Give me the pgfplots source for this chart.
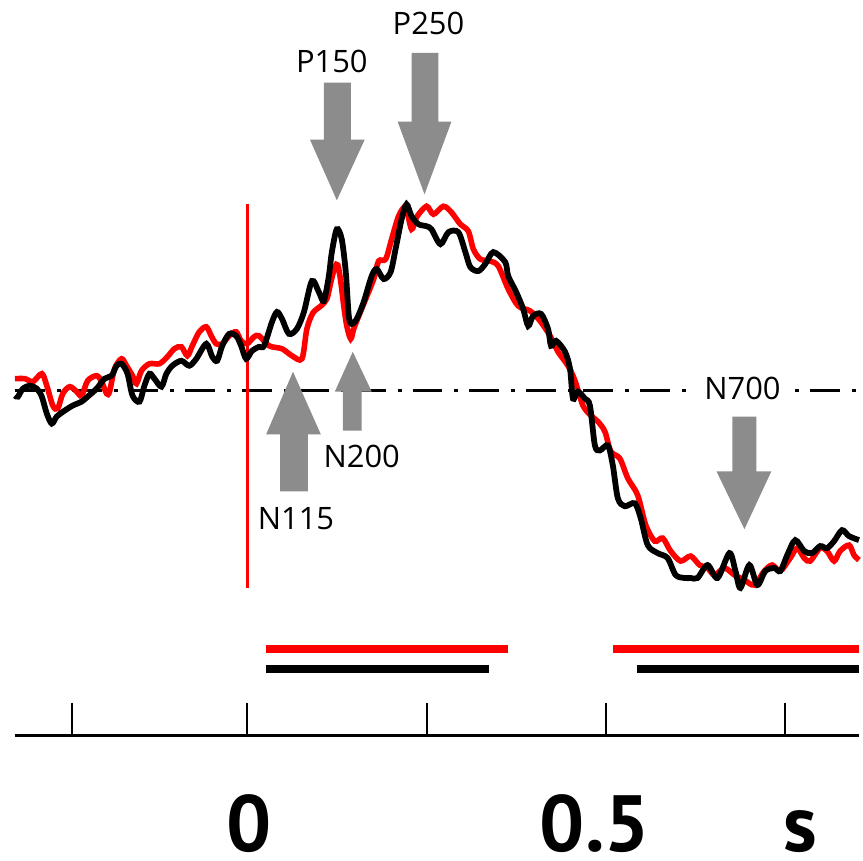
\documentclass[border=0pt]{standalone}
\usepackage{pgfplots}
\pgfplotsset{compat=1.18}
\usepackage{fontspec}
\setmainfont{Open Sans}
\newfontfamily\bigfont{PT Sans}

\definecolor{arrowgray}{RGB}{140,140,140}

\begin{document}
\begin{tikzpicture}
\begin{axis}[
    name=ax,
    width=431pt, height=431.5pt,
    scale only axis,
    xmin=-0.3444, xmax=0.8528,
    ymin=-47.1, ymax=39.2,
    hide axis,
    clip=false,
]
\path (rel axis cs:0,0) rectangle (rel axis cs:1,1);

% baseline
\addplot[black, line width=1.3pt, dash pattern=on 15pt off 6pt on 2pt off 5.5pt]
    coordinates {(-0.3236,0) (0.8528,0)};

% stimulus onset
\addplot[red, line width=1.6pt] coordinates {(0,18.7) (0,-19.8)};

% significance intervals
\addplot[red, line width=4pt] coordinates {(0.026,-25.9) (0.364,-25.9)};
\addplot[black, line width=4pt] coordinates {(0.026,-27.9) (0.3375,-27.9)};
\addplot[red, line width=4pt] coordinates {(0.510,-25.9) (0.8528,-25.9)};
\addplot[black, line width=4pt] coordinates {(0.543,-27.9) (0.8528,-27.9)};

% red condition
\addplot[red, line width=2.8pt, smooth, tension=0.5] coordinates {
(-0.3236,1.2) (-0.3097,1.2) (-0.2986,0.9) (-0.2861,1.7) (-0.2792,0.5)
(-0.2708,-1.5) (-0.2639,-1.8) (-0.2569,-0.3) (-0.2472,0.4) (-0.2375,-0.1)
(-0.2306,-0.5) (-0.2222,1.0) (-0.2097,1.5) (-0.2028,0.9) (-0.1958,-0.3)
(-0.1917,-0.1) (-0.1847,2.2) (-0.1750,3.2) (-0.1681,2.5) (-0.1597,1.5)
(-0.1542,0.7) (-0.1472,2.0) (-0.1361,2.7) (-0.1222,2.7) (-0.1111,3.4)
(-0.1014,4.2) (-0.0917,4.4) (-0.0833,3.5) (-0.0764,4.5) (-0.0667,5.9)
(-0.0569,6.4) (-0.0500,5.5) (-0.0431,4.7) (-0.0347,4.7) (-0.0250,5.5)
(-0.0153,5.9) (-0.0083,5.0) (0,4.7) (0.0097,5.4) (0.0167,5.5)
(0.0306,4.5) (0.0486,4.2) (0.0625,3.5) (0.0764,3.2) (0.0833,6.2)
(0.0917,7.8) (0.1028,8.5) (0.1111,9.2) (0.1167,10.9) (0.1222,12.4)
(0.1264,12.6) (0.1306,10.9) (0.1347,8.5) (0.1389,6.5) (0.1444,5.2)
(0.1486,6.2) (0.1556,7.5) (0.1653,9.2) (0.1764,11.2) (0.1833,13.0)
(0.1931,13.2) (0.2014,15.2) (0.2111,17.5) (0.2208,18.4) (0.2292,16.2)
(0.2361,17.4) (0.2500,18.5) (0.2597,17.7) (0.2736,18.5) (0.2847,17.9)
(0.2972,16.7) (0.3083,16.0) (0.3153,14.2) (0.3250,13.2) (0.3389,13.0)
(0.3500,12.5) (0.3639,10.2) (0.3778,8.5) (0.3944,8.0) (0.4083,7.0)
(0.4222,5.5) (0.4333,3.9) (0.4472,2.5) (0.4569,1.0) (0.4681,-1.5)
(0.4792,-2.5) (0.4889,-3.1) (0.4986,-4.1) (0.5069,-6.1) (0.5194,-6.8)
(0.5306,-8.8) (0.5444,-10.5) (0.5556,-13.5) (0.5681,-15.1) (0.5792,-14.8)
(0.5903,-16.1) (0.6042,-17.1) (0.6181,-16.6) (0.6306,-17.5) (0.6417,-17.8)
(0.6514,-18.5) (0.6653,-17.8) (0.6792,-18.5) (0.6931,-19.0) (0.7069,-19.5)
(0.7208,-18.1) (0.7319,-17.5) (0.7431,-18.1) (0.7569,-16.8) (0.7667,-15.8)
(0.7764,-16.8) (0.7847,-17.1) (0.7986,-15.8) (0.8083,-16.1) (0.8181,-17.1)
(0.8264,-16.1) (0.8389,-15.5) (0.8458,-16.5) (0.8528,-17.0)
};

% black condition
\addplot[black, line width=2.9pt, smooth, tension=0.5] coordinates {
(-0.3236,-0.5) (-0.3194,-0.6) (-0.3125,0.2) (-0.3028,0.5) (-0.2931,0.2)
(-0.2861,-0.6) (-0.2792,-2.3) (-0.2722,-3.3) (-0.2653,-2.6) (-0.2542,-2.0)
(-0.2431,-1.5) (-0.2306,-1.1) (-0.2222,-0.6) (-0.2097,0.2) (-0.1986,1.2)
(-0.1889,1.5) (-0.1819,2.5) (-0.1750,2.7) (-0.1667,1.7) (-0.1597,-0.5)
(-0.1500,-1.1) (-0.1431,0.5) (-0.1361,1.7) (-0.1292,1.2) (-0.1194,0.4)
(-0.1125,1.7) (-0.1042,2.5) (-0.0917,3.0) (-0.0806,2.5) (-0.0708,3.2)
(-0.0569,4.7) (-0.0486,3.4) (-0.0417,3.0) (-0.0347,4.5) (-0.0250,5.7)
(-0.0153,5.5) (-0.0083,4.5) (-0.0014,3.2) (0.0069,4.0) (0.0167,4.4)
(0.0236,4.5) (0.0347,6.9) (0.0417,7.9) (0.0486,7.2) (0.0583,5.7)
(0.0694,6.2) (0.0792,7.9) (0.0903,11.0) (0.1000,9.9) (0.1069,9.0)
(0.1139,11.5) (0.1181,13.9) (0.1250,16.2) (0.1319,15.2) (0.1375,11.9)
(0.1417,7.5) (0.1458,6.7) (0.1528,7.2) (0.1625,8.9) (0.1736,11.5)
(0.1806,12.2) (0.1903,11.2) (0.2000,11.9) (0.2069,14.2) (0.2153,17.2)
(0.2222,18.7) (0.2292,17.5) (0.2389,16.7) (0.2500,16.5) (0.2569,16.2)
(0.2694,14.7) (0.2806,15.9) (0.2944,15.9) (0.3042,13.9) (0.3111,12.4)
(0.3222,12.0) (0.3319,12.7) (0.3431,13.9) (0.3597,12.9) (0.3639,11.5)
(0.3750,9.9) (0.3847,8.2) (0.3917,6.5) (0.3986,7.5) (0.4097,7.7)
(0.4194,6.2) (0.4236,4.5) (0.4306,5.0) (0.4431,3.9) (0.4500,2.2)
(0.4542,-0.8) (0.4611,-0.1) (0.4708,-0.8) (0.4778,-1.5) (0.4847,-5.5)
(0.4917,-6.0) (0.5028,-5.5) (0.5097,-7.5) (0.5167,-10.8) (0.5264,-11.6)
(0.5403,-11.3) (0.5486,-12.8) (0.5583,-15.5) (0.5722,-16.3) (0.5861,-16.8)
(0.5972,-18.5) (0.6097,-18.8) (0.6181,-18.8) (0.6278,-18.8) (0.6417,-17.5)
(0.6556,-18.8) (0.6722,-16.3) (0.6806,-18.1) (0.6875,-19.8) (0.7000,-17.5)
(0.7111,-19.5) (0.7222,-18.1) (0.7347,-17.8) (0.7431,-18.1) (0.7528,-16.5)
(0.7639,-15.0) (0.7764,-16.1) (0.7875,-16.3) (0.7986,-15.6) (0.8083,-15.8)
(0.8181,-15.1) (0.8292,-14.0) (0.8389,-14.6) (0.8528,-15.0)
};
\end{axis}

% annotations in pixel units of the reference (origin top left)
\begin{scope}[shift={(ax.north west)}, x=0.5pt, y=-0.5pt]
  % time axis
  \draw[line width=1.5pt] (15,738) -- (862,738);
  \foreach \t in {72,248,428,608,788}
    \draw[line width=1pt] (\t,705) -- (\t,738);
  \begin{scope}[every node/.style={anchor=base, inner sep=0pt,
      font=\bigfont\fontsize{40}{44}\selectfont\bfseries}]
    \node at (250,854) {0};
    \node at (597,854) {0.5};
    \node at (803,854) {s};
  \end{scope}

  % component arrows
  \fill[arrowgray] (325,83) -- (352,83) -- (352,140) -- (366,140) -- (338,201) -- (311,140) -- (325,140) -- cycle;
  \fill[arrowgray] (413,53) -- (440,53) -- (440,122) -- (453,122) -- (426,195) -- (399,122) -- (413,122) -- cycle;
  \fill[arrowgray] (281,493) -- (309,493) -- (309,436) -- (322,436) -- (294,373) -- (267,436) -- (281,436) -- cycle;
  \fill[arrowgray] (344,432) -- (363,432) -- (363,393) -- (373,393) -- (354,353) -- (336,393) -- (344,393) -- cycle;
  \fill[arrowgray] (735,418) -- (759,418) -- (759,473) -- (774,473) -- (747,531) -- (719,473) -- (735,473) -- cycle;

  \begin{scope}[every node/.style={font=\fontsize{15.5}{18}\selectfont, inner sep=1pt}]
    \node at (333,62) {P150};
    \node at (430,24) {P250};
    \node at (297,520) {N115};
    \node at (363,458) {N200};
    \node[fill=white, inner xsep=4pt] at (745,390) {N700};
  \end{scope}
\end{scope}
\end{tikzpicture}
\end{document}
